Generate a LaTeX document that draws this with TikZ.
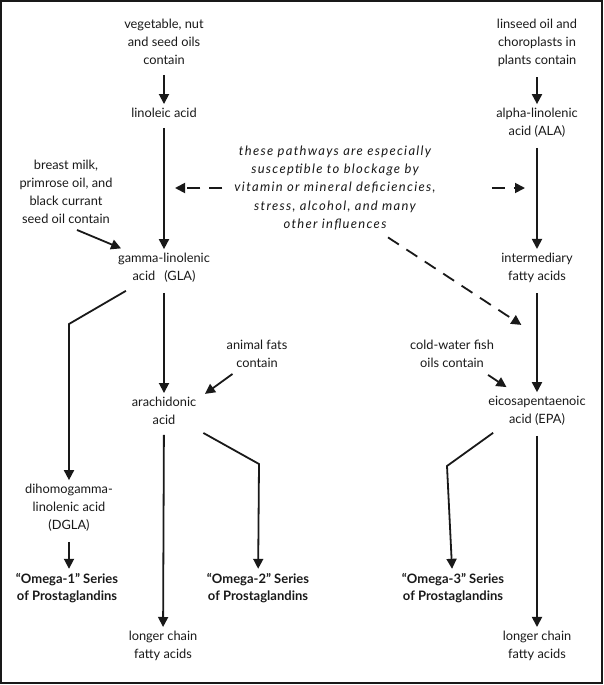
\documentclass[tikz,border=0pt]{standalone}
\usepackage{fontspec}
\setmainfont{Lato}
\newfontfamily\notefont[LetterSpace=10]{Lato}
\usepackage{tikz}
\usetikzlibrary{arrows.meta}
\definecolor{figline}{RGB}{25,25,25}
\tikzset{
  lab/.style  ={font=\fontsize{12.8}{18}\selectfont, align=center, inner sep=2pt, text=figline},
  labb/.style ={lab, font=\fontsize{13}{17.5}\selectfont\bfseries},
  labi/.style ={lab, font=\notefont\fontsize{13}{18.3}\selectfont\itshape},
  flw/.style  ={draw=figline, line width=1.8pt, -{Triangle[length=10pt,width=10pt]}, shorten <=8pt, shorten >=2pt},
  flwa/.style ={flw, shorten <=0pt},
  blk/.style  ={flwa, dash pattern=on 13pt off 9pt},
}

\begin{document}
\begin{tikzpicture}[x=1pt,y=-1pt]
  \useasboundingbox (0,0) rectangle (604,685);
  \draw[draw=figline,line width=1.4pt] (1,1) rectangle (602,683);
  % left column
  \node[lab] (veg) at (164,42) {vegetable, nut\\and seed oils\\contain};
  \node[lab] (lin) at (164,113) {linoleic acid};
  \node[lab] (milk) at (66,192) {breast milk,\\primrose oil, and\\black currant\\seed oil contain};
  \node[lab] (gla) at (164,268) {gamma-linolenic\\acid\hspace{0.7em}(GLA)};
  \node[lab] (fats) at (257,354) {animal fats\\contain};
  \node[lab] (ara) at (164,411) {arachidonic\\acid};
  \node[lab] (dgla) at (69,508) {dihomogamma-\\linolenic acid\\(DGLA)};
  \node[labb] (om1) at (67,588) {“Omega-1” Series\\of Prostaglandins};
  \node[labb] (om2) at (258,588) {“Omega-2” Series\\of Prostaglandins};
  \node[lab] (lng1) at (163,646) {longer chain\\fatty acids};
  % right column
  \node[lab] (flax) at (537,43) {linseed oil and\\choroplasts in\\plants contain};
  \node[lab] (ala) at (537,123) {alpha-linolenic\\acid (ALA)};
  \node[lab] (mid) at (537,268) {intermediary\\fatty acids};
  \node[lab] (fish) at (452,354) {cold-water fish\\oils contain};
  \node[lab] (epa) at (537,411) {eicosapentaenoic\\acid (EPA)};
  \node[labb] (om3) at (453,588) {“Omega-3” Series\\of Prostaglandins};
  \node[lab] (lng2) at (537,646) {longer chain\\fatty acids};
  % note
  \node[labi] (note) at (335,188) {these pathways are especially\\susceptible to blockage by\\vitamin or mineral deficiencies,\\stress, alcohol, and many\\other influences};
  \coordinate (hitL) at (173,188);
  \coordinate (hitR) at (527,188);
  \coordinate (hitD) at (523,326);
  \coordinate (bnd1) at (69,324);
  \coordinate (bnd2) at (259,464);
  \coordinate (bnd3) at (447,466);

  \draw[flw] (veg) -- (lin);
  \draw[flw] (lin) -- (gla);
  \draw[flwa] ([xshift=11pt,yshift=-4pt]milk.south) -- ([xshift=7pt,yshift=2pt]gla.north west);
  \draw[flw] (gla) -- (ara);
  \draw[flwa] ([xshift=10pt,yshift=-6pt]gla.south west) -- (bnd1) -- (dgla);
  \draw[flwa] ([xshift=8pt,yshift=-4pt]fats.south west) -- ([xshift=5pt]ara.north east);
  \draw[flw] (ara) -- (lng1);
  \draw[flwa] ([xshift=5pt,yshift=-6pt]ara.south east) -- (bnd2) -- (om2);
  \draw[flw] (dgla) -- (dgla |- om1.north);

  \draw[flw] (flax) -- (ala);
  \draw[flw] (ala) -- (mid);
  \draw[flw] (mid) -- (epa);
  \draw[flwa] ([xshift=-8pt,yshift=-5pt]fish.south east) -- ([xshift=22pt,yshift=6pt]epa.north west);
  \draw[flwa] ([xshift=7pt,yshift=-5pt]epa.south west) -- (bnd3) -- (om3);
  \draw[flw] (epa) -- (lng2);

  \draw[blk] ([xshift=-10pt]note.west) -- (hitL);
  \draw[blk] ([xshift=54pt]note.east) -- (hitR);
  \draw[blk] ([xshift=53pt,yshift=-5pt]note.south) -- (hitD);
\end{tikzpicture}
\end{document}
